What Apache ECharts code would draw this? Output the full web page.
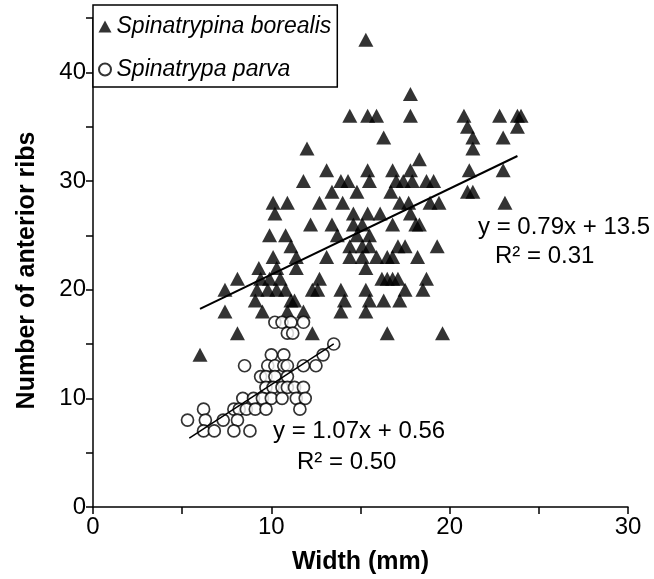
<!DOCTYPE html>
<html>
<head>
<meta charset="utf-8">
<script src="https://cdn.jsdelivr.net/npm/echarts@6/dist/echarts.min.js"></script>
<style>
  html, body { margin: 0; padding: 0; background: #fff; }
  #chart { width: 654px; height: 579px; }
</style>
</head>
<body>
<div id="chart"></div>
<script>
// Spinatrypina borealis (triangles): width (mm) and number of anterior ribs
const borealisWidth = [
  15.3,
  17.8,
  14.4, 15.4, 15.9, 17.8, 20.8, 22.8, 23.8, 24.0,
  21.0, 23.8,
  16.3, 21.3, 23.0,
  12.0, 21.3,
  18.3,
  13.1, 15.4, 16.8, 17.8, 21.1, 23.0,
  11.8, 13.9, 14.3, 15.5, 17.0, 17.4, 17.9, 18.7, 19.1,
  13.4, 14.8, 16.7, 21.0, 21.3,
  10.1, 10.9, 12.7, 14.0, 17.2, 17.7, 18.9, 19.4, 23.1,
  10.2, 14.6, 15.4, 16.1, 17.8,
  12.2, 13.4, 14.6, 15.1, 16.8, 18.1, 18.3,
  9.9, 10.8, 13.7, 14.8, 15.5,
  11.1, 14.4, 15.1, 15.5, 17.1, 17.5, 19.3,
  10.1, 11.4, 13.1, 14.4, 15.1, 15.9, 16.5, 16.8, 18.2,
  9.3, 10.3, 11.4, 15.3,
  8.1, 9.4, 9.9, 10.5, 12.7, 16.2, 16.5, 16.8, 17.1, 18.7,
  7.4, 9.2, 9.8, 10.3, 10.8, 12.3, 12.6, 13.9, 15.3, 17.5, 18.5,
  9.1, 11.1, 11.3, 14.1, 15.5, 16.3, 17.2,
  7.4, 9.5, 10.9, 11.8, 13.9, 15.3,
  8.1, 12.3, 16.5, 19.6,
  6.0
];
const borealisRibs = [
  43,
  38,
  36, 36, 36, 36, 36, 36, 36, 36,
  35, 35,
  34, 34, 34,
  33, 33,
  32,
  31, 31, 31, 31, 31, 31,
  30, 30, 30, 30, 30, 30, 30, 30, 30,
  29, 29, 29, 29, 29,
  28, 28, 28, 28, 28, 28, 28, 28, 28,
  27, 27, 27, 27, 27,
  26, 26, 26, 26, 26, 26, 26,
  25, 25, 25, 25, 25,
  24, 24, 24, 24, 24, 24, 24,
  23, 23, 23, 23, 23, 23, 23, 23, 23,
  22, 22, 22, 22,
  21, 21, 21, 21, 21, 21, 21, 21, 21, 21,
  20, 20, 20, 20, 20, 20, 20, 20, 20, 20, 20,
  19, 19, 19, 19, 19, 19, 19,
  18, 18, 18, 18, 18, 18,
  16, 16, 16, 16,
  14
];

// Spinatrypa parva (open circles)
const parvaWidth = [
  10.2, 10.6, 11.1, 11.8,
  10.9, 11.2,
  13.5,
  10.0, 10.7, 12.9,
  8.5, 9.8, 10.2, 10.7, 10.9, 11.8, 12.5,
  9.4, 9.7, 10.2, 10.9,
  9.7, 10.1, 10.6, 10.9, 11.3, 11.8,
  8.4, 9.0, 9.5, 10.0, 10.6, 11.4, 11.9,
  6.2, 7.9, 8.2, 8.6, 9.1, 9.7, 11.6,
  5.3, 6.3, 7.3, 8.1,
  6.2, 6.8, 7.9, 8.8
];
const parvaRibs = [
  17, 17, 17, 17,
  16, 16,
  15,
  14, 14, 14,
  13, 13, 13, 13, 13, 13, 13,
  12, 12, 12, 12,
  11, 11, 11, 11, 11, 11,
  10, 10, 10, 10, 10, 10, 10,
  9, 9, 9, 9, 9, 9, 9,
  8, 8, 8, 8,
  7, 7, 7, 7
];

// regression lines: [slope, intercept], drawn over [xFrom, xTo]
const borealisFit = [0.79, 13.5];
const borealisFitRange = [6.0, 23.8];
const parvaFit = [1.07, 0.56];
const parvaFitRange = [5.4, 13.5];

const seriesNames = ["Spinatrypina borealis", "Spinatrypa parva"];
const xTicks = [0, 10, 20, 30];
const yTicks = [0, 10, 20, 30, 40];

const FONT = "'Liberation Sans', Arial, Helvetica, sans-serif";

const zip = (xs, ys) => xs.map((x, i) => [x, ys[i]]);
const fitLine = (fit, range) => range.map((x) => [x, fit[0] * x + fit[1]]);

const myChart = echarts.init(document.getElementById("chart"));

myChart.setOption({
  animation: false,
  backgroundColor: "#fff",
  grid: {
    left: 93,
    right: 26,
    top: 18,
    bottom: 72,
    outerBoundsMode: "none",
  },
  legend: {
    data: seriesNames,
    orient: "vertical",
    left: 93,
    top: 5,
    padding: [10, 6, 6, 5],
    itemGap: 20,
    itemWidth: 13,
    itemHeight: 12,
    borderColor: "#000",
    borderWidth: 1.5,
    backgroundColor: "#fff",
    textStyle: {
      fontFamily: FONT,
      fontSize: 23,
      fontStyle: "italic",
      color: "#000",
    },
  },
  xAxis: {
    type: "value",
    min: 0,
    max: 30,
    interval: 5,
    name: "Width (mm)",
    nameLocation: "middle",
    nameGap: 43,
    nameTextStyle: {
      fontFamily: FONT,
      fontSize: 25,
      fontWeight: "bold",
      color: "#000",
    },
    splitLine: { show: false },
    axisLine: { lineStyle: { color: "#000", width: 1.5 } },
    axisTick: { length: 7, lineStyle: { color: "#000", width: 1.5 } },
    axisLabel: {
      margin: 8,
      fontFamily: FONT,
      fontSize: 24,
      color: "#000",
      formatter: (v) => (xTicks.includes(v) ? String(v) : ""),
    },
  },
  yAxis: {
    type: "value",
    min: 0,
    max: 45,
    interval: 5,
    name: "Number of anterior ribs",
    nameLocation: "middle",
    nameGap: 53,
    nameRotate: 90,
    nameTextStyle: {
      fontFamily: FONT,
      fontSize: 25,
      fontWeight: "bold",
      color: "#000",
      padding: [0, 16, 0, 0],
    },
    splitLine: { show: false },
    axisLine: { lineStyle: { color: "#000", width: 1.5 } },
    axisTick: { length: 7, lineStyle: { color: "#000", width: 1.5 } },
    axisLabel: {
      margin: 7,
      fontFamily: FONT,
      fontSize: 24,
      color: "#000",
      formatter: (v) => (yTicks.includes(v) ? String(v) : ""),
    },
  },
  series: [
    {
      name: seriesNames[0],
      type: "scatter",
      symbol: "triangle",
      symbolSize: [15, 14],
      itemStyle: { color: "#000" },
      emphasis: { disabled: true },
      data: zip(borealisWidth, borealisRibs),
      z: 3,
    },
    {
      name: seriesNames[1],
      type: "scatter",
      symbol: "circle",
      symbolSize: 12,
      itemStyle: { color: "#fff", borderColor: "#000", borderWidth: 1.7 },
      emphasis: { disabled: true },
      data: zip(parvaWidth, parvaRibs),
      z: 3,
    },
    {
      name: "borealis fit",
      type: "line",
      symbol: "none",
      lineStyle: { color: "#000", width: 2 },
      data: fitLine(borealisFit, borealisFitRange),
      z: 4,
    },
    {
      name: "parva fit",
      type: "line",
      symbol: "none",
      lineStyle: { color: "#000", width: 1.5 },
      data: fitLine(parvaFit, parvaFitRange),
      z: 4,
    },
  ],
  graphic: [
    {
      type: "text",
      left: 478,
      top: 215,
      style: { text: "y = 0.79x + 13.5", font: "24px " + FONT, fill: "#000" },
    },
    {
      type: "text",
      left: 495,
      top: 244,
      style: { text: "R² = 0.31", font: "24px " + FONT, fill: "#000" },
    },
    {
      type: "text",
      left: 273,
      top: 419,
      style: { text: "y = 1.07x + 0.56", font: "24px " + FONT, fill: "#000" },
    },
    {
      type: "text",
      left: 297,
      top: 450,
      style: { text: "R² = 0.50", font: "24px " + FONT, fill: "#000" },
    },
  ],
});
</script>
</body>
</html>
